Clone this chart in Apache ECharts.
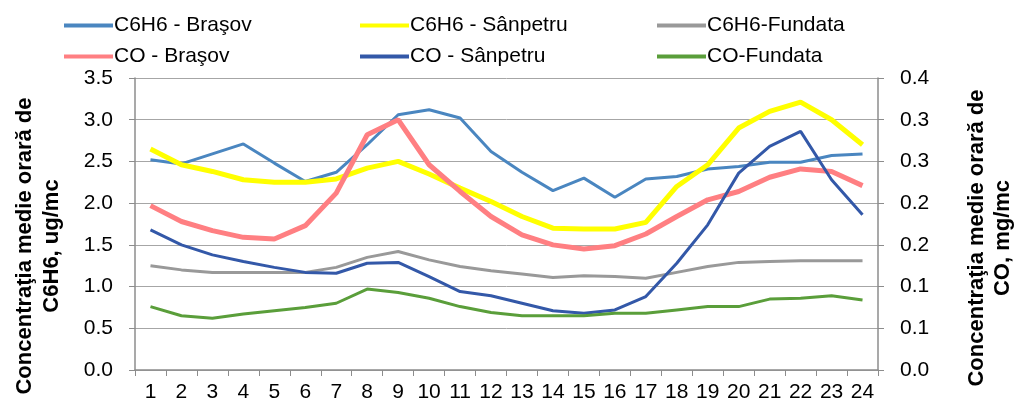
<!DOCTYPE html>
<html>
<head>
<meta charset="utf-8">
<script src="https://cdn.jsdelivr.net/npm/echarts@6/dist/echarts.min.js"></script>
<style>
    html, body { margin: 0; padding: 0; background: #fff; }
    #chart { width: 1017px; height: 405px; }
</style>
</head>
<body>
<div id="chart"></div>
<script>
// ore 1..24
var hours = ['1','2','3','4','5','6','7','8','9','10','11','12','13','14','15','16','17','18','19','20','21','22','23','24']

// C6H6, ug/mc (axa stanga)
var c6h6Brasov   = [2.52, 2.47, 2.59, 2.71, 2.48, 2.26, 2.37, 2.70, 3.06, 3.12, 3.02, 2.62, 2.37, 2.15, 2.30, 2.07, 2.29, 2.32, 2.41, 2.44, 2.49, 2.49, 2.57, 2.59]
var c6h6Sanpetru = [2.65, 2.46, 2.38, 2.28, 2.25, 2.25, 2.29, 2.42, 2.50, 2.35, 2.18, 2.02, 1.84, 1.70, 1.69, 1.69, 1.77, 2.20, 2.46, 2.90, 3.10, 3.21, 3.00, 2.70]
var c6h6Fundata  = [1.25, 1.20, 1.17, 1.17, 1.17, 1.17, 1.23, 1.35, 1.42, 1.32, 1.24, 1.19, 1.15, 1.11, 1.13, 1.12, 1.10, 1.17, 1.24, 1.29, 1.30, 1.31, 1.31, 1.31]

// CO, mg/mc (axa dreapta)
var coBrasov   = [0.197, 0.178, 0.167, 0.159, 0.157, 0.173, 0.212, 0.282, 0.300, 0.246, 0.214, 0.184, 0.162, 0.150, 0.145, 0.149, 0.163, 0.184, 0.204, 0.214, 0.231, 0.241, 0.238, 0.221]
var coSanpetru = [0.168, 0.150, 0.138, 0.130, 0.123, 0.117, 0.116, 0.128, 0.129, 0.112, 0.094, 0.089, 0.080, 0.071, 0.068, 0.072, 0.088, 0.128, 0.174, 0.236, 0.268, 0.286, 0.228, 0.186]
var coFundata  = [0.076, 0.065, 0.062, 0.067, 0.071, 0.075, 0.080, 0.097, 0.093, 0.086, 0.076, 0.069, 0.065, 0.065, 0.065, 0.068, 0.068, 0.072, 0.076, 0.076, 0.085, 0.086, 0.089, 0.084]

var fontName = 'Liberation Sans, Arial, sans-serif'

function lineSerie(name, data, color, width, axis) {
    return {
        name: name,
        type: 'line',
        yAxisIndex: axis,
        data: data,
        symbol: 'none',
        smooth: false,
        lineStyle: { color: color, width: width },
        itemStyle: { color: color }
    }
}

function legendCol(left, names) {
    return {
        orient: 'vertical',
        left: left,
        top: 10,
        icon: 'rect',
        itemWidth: 49,
        itemHeight: 4,
        itemGap: 10,
        selectedMode: false,
        textStyle: { fontFamily: fontName, fontSize: 21, color: '#000', padding: [0, 0, 0, -4] },
        data: names
    }
}

var myChart = echarts.init(document.getElementById('chart'))

var option = {
    animation: false,
    backgroundColor: '#fff',
    textStyle: { fontFamily: fontName },
    grid: { left: 135, right: 139, top: 78, bottom: 35 },
    legend: [
        legendCol(59, ['C6H6 - Braşov', 'CO - Braşov']),
        legendCol(355, ['C6H6 - Sânpetru', 'CO - Sânpetru']),
        legendCol(652, ['C6H6-Fundata', 'CO-Fundata'])
    ],
    graphic: [
        {
            type: 'text',
            x: 38, y: 246,
            rotation: Math.PI / 2,
            style: {
                text: 'Concentraţia medie orară de\nC6H6, ug/mc',
                font: 'bold 22px ' + fontName,
                fill: '#000',
                align: 'center',
                verticalAlign: 'middle',
                lineHeight: 27
            }
        },
        {
            type: 'text',
            x: 990, y: 238,
            rotation: Math.PI / 2,
            style: {
                text: 'Concentraţia medie orară de\nCO, mg/mc',
                font: 'bold 22px ' + fontName,
                fill: '#000',
                align: 'center',
                verticalAlign: 'middle',
                lineHeight: 26
            }
        }
    ],
    xAxis: {
        type: 'category',
        data: hours,
        boundaryGap: true,
        axisLine: { lineStyle: { color: '#8c8c8c', width: 1.5 } },
        axisTick: { show: true, length: 6, lineStyle: { color: '#8c8c8c' } },
        axisLabel: { interval: 0, margin: 12, fontSize: 21, color: '#000', fontFamily: fontName }
    },
    yAxis: [
        {
            type: 'value',
            min: 0,
            max: 3.5,
            interval: 0.5,
            axisLine: { show: true, lineStyle: { color: '#8c8c8c', width: 1.5 } },
            axisTick: { show: true, length: 6, lineStyle: { color: '#8c8c8c' } },
            splitLine: { show: true, lineStyle: { color: '#a6a6a6', width: 1 } },
            axisLabel: {
                margin: 22, fontSize: 21, color: '#000', fontFamily: fontName,
                formatter: function (v) { return v.toFixed(1) }
            }
        },
        {
            type: 'value',
            min: 0,
            max: 0.35,
            interval: 0.05,
            axisLine: { show: true, lineStyle: { color: '#8c8c8c', width: 1.5 } },
            axisTick: { show: true, length: 6, lineStyle: { color: '#8c8c8c' } },
            splitLine: { show: false },
            axisLabel: {
                margin: 22, fontSize: 21, color: '#000', fontFamily: fontName,
                // rotunjire ca in Excel (0.05 -> 0.1)
                formatter: function (v) { return (Math.round(v * 10 + 1e-9) / 10).toFixed(1) }
            }
        }
    ],
    series: [
        lineSerie('C6H6 - Braşov', c6h6Brasov, '#4a86c0', 3, 0),
        lineSerie('C6H6 - Sânpetru', c6h6Sanpetru, '#ffff00', 5, 0),
        lineSerie('C6H6-Fundata', c6h6Fundata, '#999999', 3, 0),
        lineSerie('CO - Braşov', coBrasov, '#ff7f82', 5, 1),
        lineSerie('CO - Sânpetru', coSanpetru, '#3358a8', 3, 1),
        lineSerie('CO-Fundata', coFundata, '#5a9e3a', 3, 1)
    ]
}

myChart.setOption(option)
</script>
</body>
</html>
